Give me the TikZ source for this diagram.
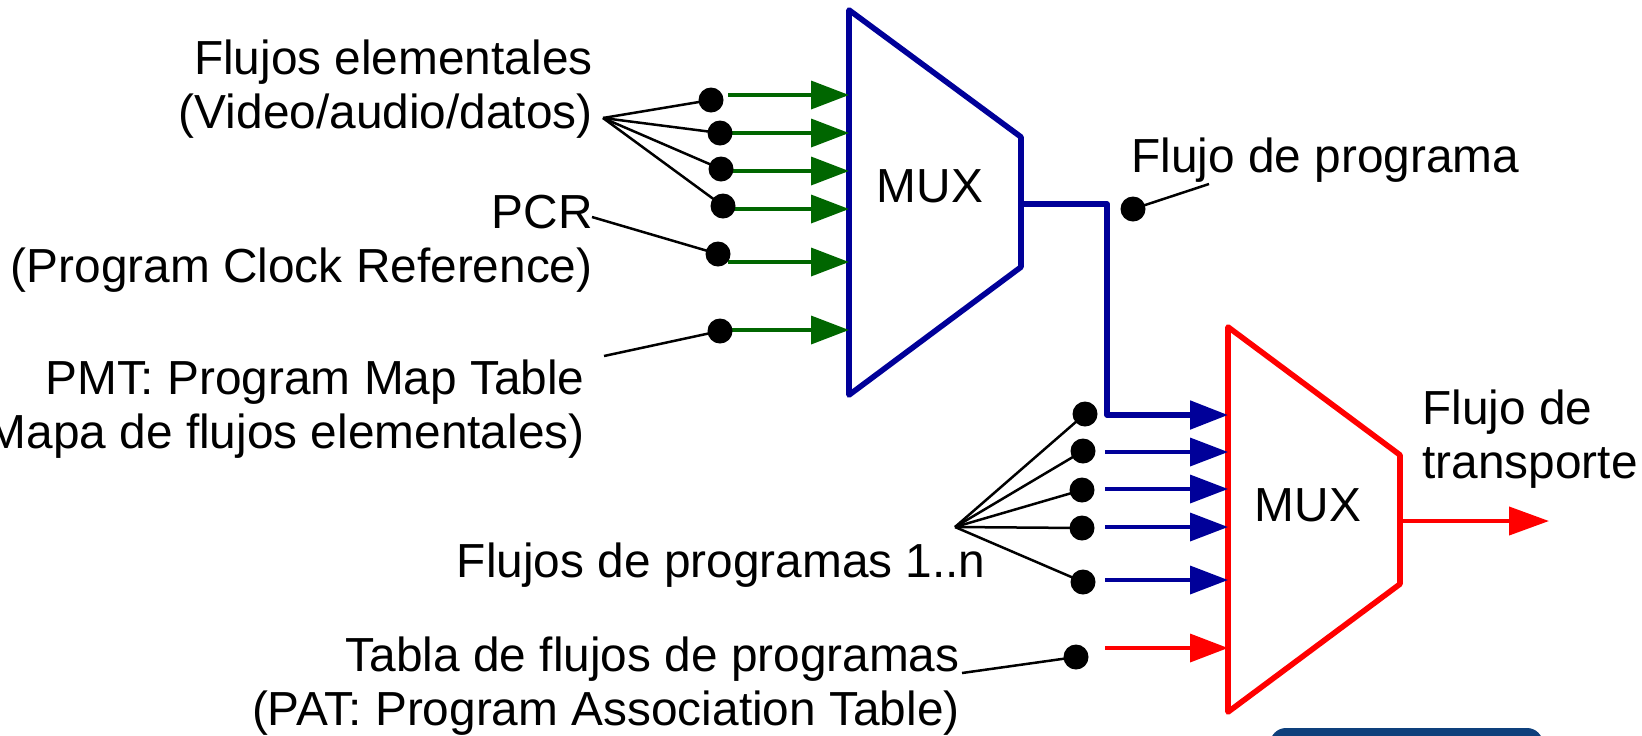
\documentclass[tikz,border=0pt]{standalone}
\usepackage{fontspec}
\setmainfont{Liberation Sans}
\usetikzlibrary{arrows.meta}
\definecolor{grn}{RGB}{0,102,0}
\definecolor{blu}{RGB}{0,0,153}
\definecolor{rd}{RGB}{255,0,0}
\definecolor{artblue}{RGB}{14,64,124}
\begin{document}
\begin{tikzpicture}[x=0.5pt,y=-0.5pt,
  lbl/.style={font=\fontsize{23.9pt}{28pt}\selectfont, inner sep=0pt},
  dot/.style={circle, fill=black, inner sep=0pt, minimum size=12.5pt},
  lead/.style={line width=1.25pt, black},
  mux/.style={line width=2.8pt, line join=round},
  arr/.style={line width=1.8pt, -{Triangle[length=19pt,width=14pt]}},
]
\useasboundingbox (0,0) rectangle (1642,735);

% ---------- bottom-right cropped artefact
\fill[artblue, rounded corners=8pt] (1270,728) rectangle (1543,790);

% ---------- MUX 1
\draw[mux, blu] (849,10) -- (1021,137) -- (1021,267) -- (849,395) -- cycle;
\node[lbl, anchor=base] (mux1) at (930,202) {MUX};

% ---------- MUX 2
\draw[mux, rd] (1228,327) -- (1400,455) -- (1400,584) -- (1228,712) -- cycle;
\node[lbl, anchor=base] (mux2) at (1308,521) {MUX};

% ---------- coordinates
\coordinate (gs1) at (728,95);  \coordinate (ge1) at (849,95);
\coordinate (gs2) at (728,133); \coordinate (ge2) at (849,133);
\coordinate (gs3) at (728,171); \coordinate (ge3) at (849,171);
\coordinate (gs4) at (728,209); \coordinate (ge4) at (849,209);
\coordinate (gs5) at (728,262); \coordinate (ge5) at (849,262);
\coordinate (gs6) at (728,330); \coordinate (ge6) at (849,330);

\coordinate (bs2) at (1105,452); \coordinate (be2) at (1228,452);
\coordinate (bs3) at (1105,489); \coordinate (be3) at (1228,489);
\coordinate (bs4) at (1105,527); \coordinate (be4) at (1228,527);
\coordinate (bs5) at (1105,580); \coordinate (be5) at (1228,580);
\coordinate (rs6) at (1105,648); \coordinate (re6) at (1228,648);

\coordinate (o1) at (1021,204);
\coordinate (c1) at (1107,204);
\coordinate (c2) at (1107,415);
\coordinate (be1) at (1228,415);
\coordinate (o2) at (1400,521);
\coordinate (out) at (1549,521);

\coordinate (fan1) at (603,118);
\coordinate (lpcr) at (592,217);
\coordinate (lpmt) at (604,356);
\coordinate (lfp) at (1209,184);
\coordinate (fan2) at (955,527);
\coordinate (lpat) at (962,673);

% ---------- arrows into MUX 1
\foreach \i in {1,...,6} \draw[arr, grn] (gs\i) -- (ge\i);

% ---------- MUX1 output path
\draw[line width=2.6pt, blu, line join=round, -{Triangle[length=19pt,width=14pt]}] (o1) -- (c1) -- (c2) -- (be1);

% ---------- arrows into MUX 2
\foreach \i in {2,...,5} \draw[arr, blu] (bs\i) -- (be\i);
\draw[arr, rd] (rs6) -- (re6);

% ---------- MUX2 output
\draw[line width=2pt, rd, -{Triangle[length=20pt,width=14pt]}] (o2) -- (out);

% ---------- dots
\node[dot] (d1) at (711,100) {};
\node[dot] (d2) at (720,133) {};
\node[dot] (d3) at (721,169) {};
\node[dot] (d4) at (723,206) {};
\node[dot] (d5) at (718,254) {};
\node[dot] (d6) at (720,331) {};
\node[dot] (dp) at (1133,209) {};
\node[dot] (b1) at (1085,414) {};
\node[dot] (b2) at (1083,451) {};
\node[dot] (b3) at (1082,490) {};
\node[dot] (b4) at (1082,528) {};
\node[dot] (b5) at (1083,582) {};
\node[dot] (b6) at (1076,657) {};

% ---------- leader lines
\foreach \d in {d1,d2,d3,d4} \draw[lead] (fan1) -- (\d.center);
\draw[lead] (lpcr) -- (d5.center);
\draw[lead] (lpmt) -- (d6.center);
\draw[lead] (dp.center) -- (lfp);
\foreach \d in {b1,b2,b3,b4,b5} \draw[lead] (fan2) -- (\d.center);
\draw[lead] (lpat) -- (b6.center);

% ---------- texts
\node[lbl, anchor=base east] (t1a) at (593,74) {Flujos elementales};
\node[lbl, anchor=base east] (t1b) at (593,128) {(Video/audio/datos)};
\node[lbl, anchor=base east] (t2a) at (593,228) {PCR};
\node[lbl, anchor=base east] (t2b) at (593,282) {(Program Clock Reference)};
\node[lbl, anchor=base east] (t3a) at (585,394) {PMT: Program Map Table};
\node[lbl, anchor=base east] (t3b) at (585,448) {(Mapa de flujos elementales)};
\node[lbl, anchor=base west] (t4) at (1131,172) {Flujo de programa};
\node[lbl, anchor=base west] (t5a) at (1422,424) {Flujo de};
\node[lbl, anchor=base west] (t5b) at (1422,478) {transporte};
\node[lbl, anchor=base east] (t6) at (986,577) {Flujos de programas 1..n};
\node[lbl, anchor=base east] (t7a) at (960,671) {Tabla de flujos de programas};
\node[lbl, anchor=base east] (t7b) at (960,725) {(PAT: Program Association Table)};
\end{tikzpicture}
\end{document}
